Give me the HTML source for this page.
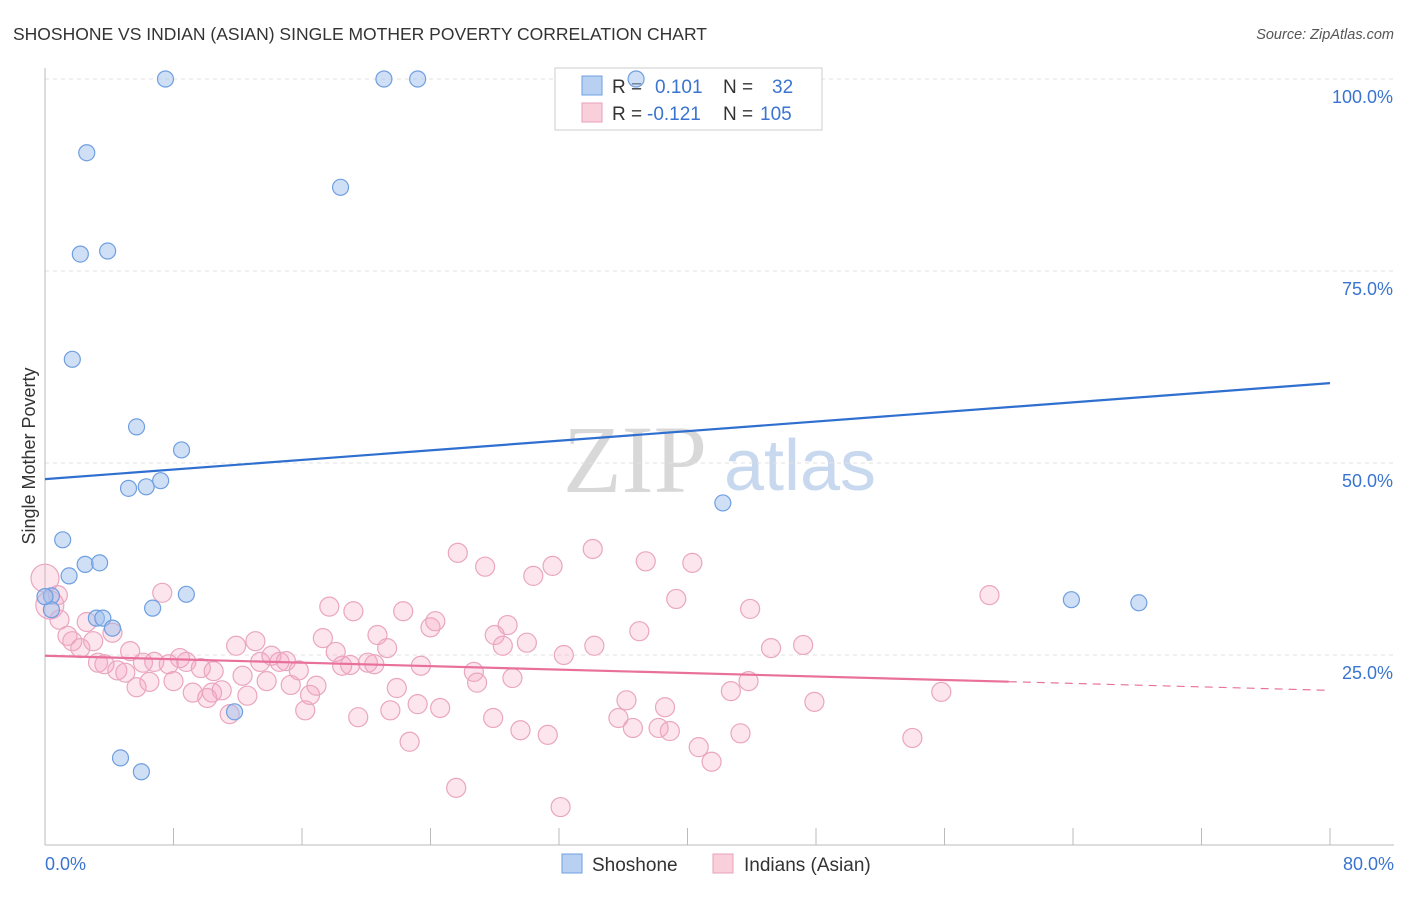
<!DOCTYPE html>
<html><head><meta charset="utf-8">
<style>
body{margin:0;background:#fff;font-family:"Liberation Sans",sans-serif;}
svg text{font-family:"Liberation Sans",sans-serif;}
</style></head>
<body>
<svg id="chart" width="1406" height="892">
<text x="13" y="40" font-size="17.5" fill="#333">SHOSHONE VS INDIAN (ASIAN) SINGLE MOTHER POVERTY CORRELATION CHART</text>
<text x="1394" y="39" font-size="14.5" fill="#555" text-anchor="end" font-style="italic">Source: ZipAtlas.com</text>
<text x="635" y="492" font-size="96" fill="#d8d8d8" text-anchor="middle" style="font-family:'Liberation Serif',serif">ZIP</text>
<text x="800" y="490" font-size="72" fill="#c8d8ee" text-anchor="middle">atlas</text>
<g id="grid"></g>
<g id="axes"></g>
<g>
<rect x="555" y="68" width="267" height="62" fill="#fff" stroke="#ccc"/>
<rect x="582" y="76" width="20" height="19" fill="#b8d0f2" stroke="#6f9fe0"/>
<rect x="582" y="103" width="20" height="19" fill="#f9cfdc" stroke="#e8a0b8"/>
<text x="612" y="93" font-size="19" fill="#333">R =</text>
<text x="655" y="93" font-size="19" fill="#3a74d0">0.101</text>
<text x="723" y="93" font-size="19" fill="#333">N =</text>
<text x="772" y="93" font-size="19" fill="#3a74d0">32</text>
<text x="612" y="120" font-size="19" fill="#333">R =</text>
<text x="647" y="120" font-size="19" fill="#3a74d0">-0.121</text>
<text x="723" y="120" font-size="19" fill="#333">N =</text>
<text x="760" y="120" font-size="19" fill="#3a74d0">105</text>
</g>
<g id="pts"></g>
<g id="trend"></g>
<text x="35" y="456" font-size="18" fill="#333" text-anchor="middle" transform="rotate(-90 35 456)">Single Mother Poverty</text>
<g>
<rect x="562" y="854" width="20" height="19" fill="#b8d0f2" stroke="#6f9fe0"/>
<text x="592" y="871" font-size="19" fill="#333">Shoshone</text>
<rect x="713" y="854" width="20" height="19" fill="#f9cfdc" stroke="#e8a0b8"/>
<text x="744" y="871" font-size="19" fill="#333">Indians (Asian)</text>
</g>
</svg>
<script>
const yTicks=[25,50,75,100];
const yTickLabels=["25.0%","50.0%","75.0%","100.0%"];
const xTickLabels=["0.0%","80.0%"];
const blueX=[7.5,21.1,23.2,36.8,2.6,18.4,2.2,3.9,1.7,5.7,8.5,5.2,6.3,7.2,42.2,1.1,2.5,3.4,1.5,0.4,0.4,8.8,6.7,3.2,3.6,4.2,11.8,4.7,6.0,63.9,68.1,0.0];
const blueY=[100,100,100,100,90.4,85.9,77.2,77.6,63.5,54.7,51.7,46.7,46.9,47.7,44.8,40.0,36.8,37.0,35.3,32.7,30.9,32.9,31.1,29.8,29.8,28.5,17.6,11.6,9.8,32.2,31.8,32.6];
const pinkX=[0,0.3,0.8,0.9,1.4,1.7,2.2,2.6,3.0,3.3,3.7,4.2,4.5,5.0,5.3,5.7,6.1,6.5,6.8,7.3,7.7,8.0,8.4,8.8,9.2,9.7,10.1,10.4,10.5,11.0,11.5,11.9,12.3,12.6,13.1,13.4,13.8,14.1,14.6,15.0,15.3,15.8,16.2,16.5,16.9,17.3,17.7,18.1,18.5,19.0,19.2,19.5,20.1,20.5,20.7,21.3,21.5,21.9,22.3,22.7,23.2,23.4,24.0,24.3,24.6,25.6,25.7,26.7,26.9,27.4,27.9,28.0,28.5,28.8,29.1,29.6,30.0,30.4,31.3,31.6,32.1,32.3,34.1,34.2,35.7,36.2,36.6,37.0,37.4,38.2,38.6,38.9,39.3,40.3,40.7,41.5,42.7,43.3,43.8,43.9,45.2,47.2,47.9,54.0,55.8,58.8];
const pinkY=[35.0,31.5,32.8,29.6,27.5,26.8,25.9,29.3,26.8,24.0,23.8,27.9,23.0,22.7,25.5,20.8,24.0,21.5,24.1,33.1,23.8,21.6,24.6,24.1,20.1,23.3,19.4,20.1,22.9,20.4,17.3,26.2,22.3,19.7,26.8,24.1,21.6,24.9,24.1,24.2,21.1,23.0,17.8,19.8,21.0,27.2,31.3,25.4,23.6,23.7,30.7,16.9,24.0,23.8,27.6,25.9,17.8,20.7,30.7,13.7,18.6,23.6,28.6,29.4,18.1,7.7,38.3,22.8,21.4,36.5,16.8,27.6,26.2,28.9,22.0,15.2,26.6,35.3,14.6,36.6,5.2,25.0,38.8,26.2,16.8,19.1,15.5,28.1,37.2,15.5,18.2,15.1,32.3,37.0,13.0,11.1,20.3,14.8,21.6,31.0,25.9,26.3,18.9,14.2,20.2,32.8];
const blueTrend=[47.9,60.4];
const pinkTrend=[24.9,20.4];
const pinkSolidEnd=60;

const NS="http://www.w3.org/2000/svg";
const X=v=>45+v*(1285/80);
const Y=v=>847-v*7.68;
function mk(tag,attrs,parent){const e=document.createElementNS(NS,tag);for(const k in attrs)e.setAttribute(k,attrs[k]);parent.appendChild(e);return e;}
const grid=document.getElementById('grid'),axes=document.getElementById('axes'),pts=document.getElementById('pts'),tr=document.getElementById('trend');
yTicks.forEach((t,i)=>{
  const l=mk('line',{x1:45,x2:1394,y1:Y(t),y2:Y(t),stroke:'#e2e2e2','stroke-dasharray':'4,4'},grid);
  
  
  const tx=mk('text',{x:1393,y:Y(t)+24,'font-size':18,fill:'#3a74d0','text-anchor':'end'},axes);
  tx.textContent=yTickLabels[i];
  
  
});
const ax=mk('line',{x1:45,x2:45,y1:68,y2:845,stroke:'#bbb'},axes);


const bx=mk('line',{x1:45,x2:1394,y1:845,y2:845,stroke:'#bbb'},axes);


for(let i=0;i<=10;i++){
  const t=mk('line',{x1:X(i*8),x2:X(i*8),y1:828,y2:845,stroke:'#bbb'},axes);
  
  
}
[[0,'start',45],[80,'end',1394]].forEach((d,i)=>{
  const tx=mk('text',{x:d[2],y:870,'font-size':18,fill:'#3a74d0','text-anchor':d[1]},axes);
  tx.textContent=xTickLabels[i];
  
  
});
pinkX.forEach((x,i)=>{
  const r=(i<2)?14:9.5;
  const c=mk('circle',{cx:X(x),cy:Y(pinkY[i]),r:r,fill:'rgba(245,160,190,0.28)',stroke:'#eaa6bf','stroke-width':1.2},pts);
  
  
});
blueX.forEach((x,i)=>{
  const c=mk('circle',{cx:X(x),cy:Y(blueY[i]),r:8,fill:'rgba(160,192,238,0.5)',stroke:'#6f9fe0','stroke-width':1.2},pts);
  
  
});
const bl=mk('line',{x1:X(0),y1:Y(blueTrend[0]),x2:X(80),y2:Y(blueTrend[1]),stroke:'#2f6fd0','stroke-width':2.2},tr);


const pAt=x=>pinkTrend[0]+(pinkTrend[1]-pinkTrend[0])*x/80;
const pl=mk('line',{x1:X(0),y1:Y(pAt(0)),x2:X(pinkSolidEnd),y2:Y(pAt(pinkSolidEnd)),stroke:'#e8709a','stroke-width':2.2},tr);


const pd=mk('line',{x1:X(pinkSolidEnd),y1:Y(pAt(pinkSolidEnd)),x2:X(80),y2:Y(pAt(80)),stroke:'#e8709a','stroke-width':1.2,'stroke-dasharray':'8,6'},tr);


</script>
</body></html>
